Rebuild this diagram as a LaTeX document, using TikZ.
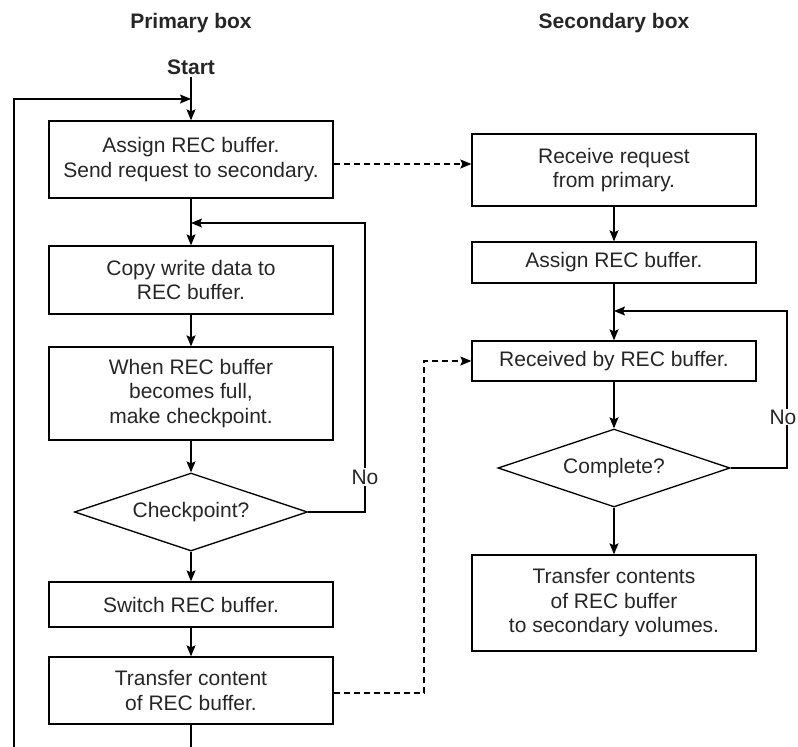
\documentclass[tikz,border=0pt]{standalone}
\usepackage{fontspec}
\setmainfont{Liberation Sans}
\usetikzlibrary{arrows.meta,shapes.geometric}
\begin{document}
\begin{tikzpicture}[x=1pt,y=-1pt,line width=1.3pt,
  every node/.style={font=\fontsize{21}{24.5}\selectfont, text=black!85},
  procbox/.style={draw, rectangle, minimum width=284pt, inner sep=0pt, align=center},
  decbox/.style={draw, diamond, aspect=3, inner sep=0pt, minimum width=233pt, minimum height=78pt},
  flowarr/.style={-{Stealth[length=11pt,width=9pt,inset=2pt]}},
  flowdash/.style={dashed, dash pattern=on 6pt off 4pt, -{Stealth[length=11pt,width=9pt,inset=2pt]}},
  nolabel/.style={fill=white, inner sep=2pt}]
\useasboundingbox (0,0) rectangle (798,747);
\node[font=\fontsize{21}{24.5}\selectfont\bfseries] (ttl1) at (191,23){Primary box};
\node[font=\fontsize{21}{24.5}\selectfont\bfseries] (ttl2) at (614,23){Secondary box};
\node[font=\fontsize{21}{24.5}\selectfont\bfseries, inner sep=2pt] (start) at (191,67){Start};
% primary side
\node[procbox, minimum height=77pt] (pb1) at (191,159.5){Assign REC buffer.\\ Send request to secondary.};
\node[procbox, minimum height=68pt] (pb2) at (191,280){Copy write data to\\ REC buffer.};
\node[procbox, minimum height=93pt] (pb3) at (191,393.5){When REC buffer\\ becomes full,\\ make checkpoint.};
\node[decbox] (pd1) at (191,512){Checkpoint?};
\node[procbox, minimum height=45pt] (pb4) at (191,604.5){Switch REC buffer.};
\node[procbox, minimum height=67pt] (pb5) at (191,690.5){Transfer content\\ of REC buffer.};
\coordinate (pend) at (191,747);
\coordinate (lp0) at (14,747);
\coordinate (lp1) at (191,99);
\coordinate (np1) at (365,223);
\coordinate (np2) at (191,223);
\draw[flowarr](start) -- (pb1);
\draw[flowarr](pb1) -- (pb2);
\draw[flowarr](pb2) -- (pb3);
\draw[flowarr](pb3) -- (pd1);
\draw[flowarr](pd1) -- (pb4);
\draw[flowarr](pb4) -- (pb5);
\draw[](pb5) -- (pend);
\draw[flowarr](lp0) |- (lp1);
\draw[flowarr](pd1.east) -| (np1) -- (np2);
\node[nolabel] (no1) at (365,477){No};
% secondary side
\node[procbox, minimum height=72pt] (sb1) at (614,170){Receive request\\ from primary.};
\node[procbox, minimum height=41pt] (sb2) at (614,262.5){Assign REC buffer.};
\node[procbox, minimum height=40pt] (sb3) at (614,361){Received by REC buffer.};
\node[decbox, minimum width=232pt] (sd1) at (614,468){Complete?};
\node[procbox, minimum height=96pt] (sb4) at (614,603){Transfer contents\\ of REC buffer\\ to secondary volumes.};
\coordinate (ns1) at (787,311);
\coordinate (ns2) at (614,311);
\coordinate (dc1) at (424,361);
\draw[flowarr](sb1) -- (sb2);
\draw[flowarr](sb2) -- (sb3);
\draw[flowarr](sb3) -- (sd1);
\draw[flowarr](sd1) -- (sb4);
\draw[flowarr](sd1.east) -| (ns1) -- (ns2);
\node[nolabel, inner sep=1pt] (no2) at (783,417){No};
% requests between boxes
\draw[flowdash]([yshift=-4.5pt]pb1.east) -- ([yshift=6pt]sb1.west);
\draw[flowdash]([yshift=-2.5pt]pb5.east) -| (dc1) -- (sb3.west);
\end{tikzpicture}
\end{document}
